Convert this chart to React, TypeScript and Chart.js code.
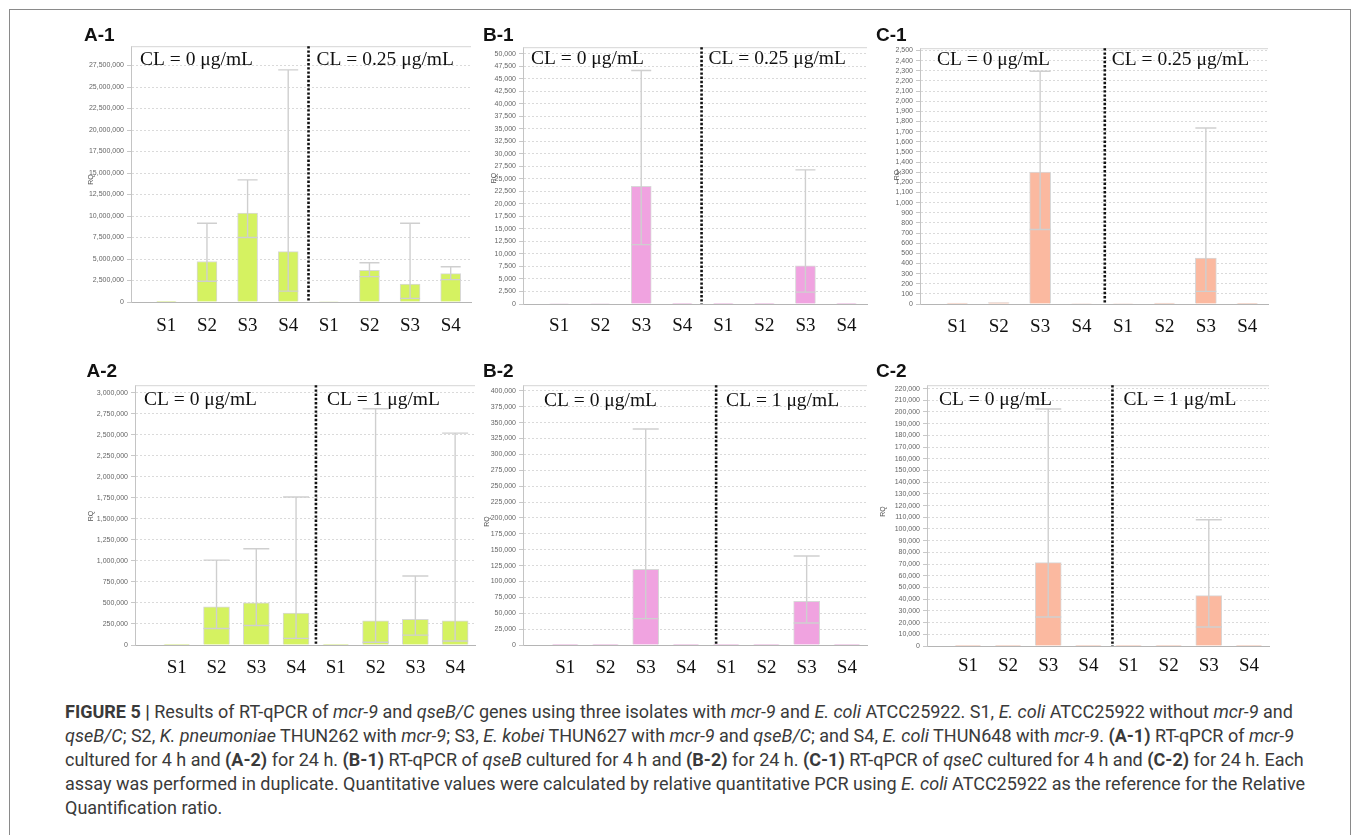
import React, { useEffect, useRef } from 'react';
import { Chart, registerables } from 'chart.js';

Chart.register(...registerables);

// ---------- data ----------
const categories = ['S1', 'S2', 'S3', 'S4', 'S1', 'S2', 'S3', 'S4'];

// A-1: mcr-9, 4 h (CL 0 / 0.25)
const a1RQ = [1, 4710000, 10340000, 5860000, 60000, 3680000, 2070000, 3300000];
const a1Min = [1, 2410000, 7500000, 1260000, 60000, 2950000, 420000, 2600000];
const a1Max = [1, 9160000, 14200000, 27000000, 60000, 4560000, 9160000, 4100000];

// B-1: qseB, 4 h
const b1RQ = [100, 100, 23500, 1, 1, 1, 7630, 1];
const b1Min = [100, 100, 11860, 1, 1, 1, 2370, 1];
const b1Max = [100, 100, 46640, 1, 1, 1, 26800, 1];

// C-1: qseC, 4 h
const c1RQ = [10, 15, 1300, 5, 5, 8, 452, 4];
const c1Min = [10, 15, 735, 5, 5, 8, 124, 4];
const c1Max = [10, 15, 2295, 5, 5, 8, 1735, 4];

// A-2: mcr-9, 24 h (CL 0 / 1)
const a2RQ = [1, 455000, 502000, 380000, 1, 286000, 306000, 286000];
const a2Min = [1, 196000, 232000, 79000, 1, 32000, 118000, 47000];
const a2Max = [1, 1010000, 1145000, 1760000, 1, 2810000, 820000, 2520000];

// B-2: qseB, 24 h
const b2RQ = [1, 1, 119200, 1, 1, 1, 68900, 1];
const b2Min = [1, 1, 41500, 1, 1, 1, 34700, 1];
const b2Max = [1, 1, 340000, 1, 1, 1, 140000, 1];

// C-2: qseC, 24 h
const c2RQ = [1, 1, 71300, 1, 1, 1, 43100, 1];
const c2Min = [1, 1, 24800, 1, 1, 1, 16300, 1];
const c2Max = [1, 1, 202600, 1, 1, 1, 107900, 1];

// y axes (max, tick step)
const yMaxes = [29750000, 51300, 2522, 3090000, 409000, 222900];
const ySteps = [2500000, 2500, 100, 250000, 25000, 10000];

const panelNames = ['A-1', 'B-1', 'C-1', 'A-2', 'B-2', 'C-2'];
const clLeftLabels = ['CL = 0 μg/mL', 'CL = 0 μg/mL', 'CL = 0 μg/mL', 'CL = 0 μg/mL', 'CL = 0 μg/mL', 'CL = 0 μg/mL'];
const clRightLabels = ['CL = 0.25 μg/mL', 'CL = 0.25 μg/mL', 'CL = 0.25 μg/mL', 'CL = 1 μg/mL', 'CL = 1 μg/mL', 'CL = 1 μg/mL'];
const yTitle = 'RQ';

// ---------- layout / style ----------
const GREEN = '#d5f261';
const PINK = '#f0a3e0';
const SALMON = '#fbb9a0';

type Panel = {
  name: string;
  rq: number[];
  lo: number[];
  hi: number[];
  color: string;
  yMax: number;
  yStep: number;
  clL: string;
  clR: string;
  l: number; r: number; t: number; b: number;
  xMin: number;
  barW: number;
  divider: number;
  dxL: number; dxR: number; dy: number;
  rqDx: number; rqDy: number;
  sOff: number;
  lx: number; ly: number;
};

const panels: Panel[] = [
  { name: panelNames[0], rq: a1RQ, lo: a1Min, hi: a1Max, color: GREEN, yMax: yMaxes[0], yStep: ySteps[0], clL: clLeftLabels[0], clR: clRightLabels[0],
    l: 131, r: 471, t: 43, b: 302, xMin: -0.87, barW: 20, divider: 3.5, dxL: 9, dxR: 8, dy: 13.7, rqDx: 40, rqDy: 5.5, sOff: 23, lx: 84, ly: 24.5 },
  { name: panelNames[1], rq: b1RQ, lo: b1Min, hi: b1Max, color: PINK, yMax: yMaxes[1], yStep: ySteps[1], clL: clLeftLabels[1], clR: clRightLabels[1],
    l: 523, r: 867, t: 44, b: 304, xMin: -0.88, barW: 20, divider: 3.47, dxL: 8, dxR: 7, dy: 11.6, rqDx: 29, rqDy: 2.5, sOff: 21, lx: 483, ly: 24.5 },
  { name: panelNames[2], rq: c1RQ, lo: c1Min, hi: c1Max, color: SALMON, yMax: yMaxes[2], yStep: ySteps[2], clL: clLeftLabels[2], clR: clRightLabels[2],
    l: 920, r: 1268, t: 45, b: 304, xMin: -0.9, barW: 21, divider: 3.56, dxL: 17, dxR: 7, dy: 11.7, rqDx: 23, rqDy: -1, sOff: 21.3, lx: 876, ly: 24.5 },
  { name: panelNames[3], rq: a2RQ, lo: a2Min, hi: a2Max, color: GREEN, yMax: yMaxes[3], yStep: ySteps[3], clL: clLeftLabels[3], clR: clRightLabels[3],
    l: 135, r: 475, t: 382, b: 645, xMin: -1.05, barW: 26, divider: 3.5, dxL: 9, dxR: 11, dy: 14.4, rqDx: 44, rqDy: 1, sOff: 21.7, lx: 86.5, ly: 360.5 },
  { name: panelNames[4], rq: b2RQ, lo: b2Min, hi: b2Max, color: PINK, yMax: yMaxes[4], yStep: ySteps[4], clL: clLeftLabels[4], clR: clRightLabels[4],
    l: 523, r: 867, t: 382, b: 645, xMin: -1.05, barW: 26, divider: 3.75, dxL: 21, dxR: 10, dy: 16, rqDx: 36, rqDy: 6.5, sOff: 21.7, lx: 483, ly: 360.5 },
  { name: panelNames[5], rq: c2RQ, lo: c2Min, hi: c2Max, color: SALMON, yMax: yMaxes[5], yStep: ySteps[5], clL: clLeftLabels[5], clR: clRightLabels[5],
    l: 927, r: 1269, t: 382, b: 646, xMin: -1.02, barW: 26, divider: 3.6, dxL: 12, dxR: 11, dy: 14.4, rqDx: 44, rqDy: -4, sOff: 19, lx: 876, ly: 360.5 },
];

const YW = 60;   // y-axis box width
const XH = 45;   // x-axis box height
const PT = 4;    // top padding
const PR = 4;    // right padding

const SERIF = '"Liberation Serif", "Times New Roman", serif';
const SANS = '"Liberation Sans", Arial, sans-serif';

function PanelChart({ p }: { p: Panel }) {
  const ref = useRef<HTMLCanvasElement>(null);
  const cw = p.r - p.l + YW + PR;
  const ch = p.b - p.t + PT + XH;

  useEffect(() => {
    if (!ref.current) return;
    const decor = {
      id: 'decor',
      beforeDatasetsDraw(chart: any) {
        const { ctx, chartArea: ca } = chart;
        ctx.save();
        ctx.strokeStyle = '#d6d6d6';
        ctx.lineWidth = 1;
        ctx.beginPath();
        ctx.moveTo(ca.left, ca.top + 0.5);
        ctx.lineTo(ca.right, ca.top + 0.5);
        ctx.stroke();
        ctx.restore();
      },
      afterDatasetsDraw(chart: any) {
        const { ctx, chartArea: ca } = chart;
        const ys = chart.scales.y;
        const xs = chart.scales.x;
        const meta = chart.getDatasetMeta(0);
        // error bars (RQ min / max)
        ctx.save();
        ctx.strokeStyle = '#cfcfcf';
        ctx.lineWidth = 1.4;
        meta.data.forEach((el: any, i: number) => {
          if (p.hi[i] === p.lo[i]) return;
          const x = el.x;
          const w = el.width;
          const yh = ys.getPixelForValue(p.hi[i]);
          const yl = ys.getPixelForValue(p.lo[i]);
          ctx.beginPath();
          ctx.moveTo(x, yl);
          ctx.lineTo(x, yh);
          ctx.moveTo(x - w / 2, yh);
          ctx.lineTo(x + w / 2, yh);
          ctx.moveTo(x - w / 2, yl);
          ctx.lineTo(x + w / 2, yl);
          ctx.stroke();
        });
        ctx.restore();
        // dotted divider
        const dx = xs.getPixelForValue(p.divider);
        ctx.save();
        ctx.strokeStyle = '#111';
        ctx.lineWidth = 2.6;
        ctx.setLineDash([2.4, 1.8]);
        ctx.beginPath();
        ctx.moveTo(dx, ca.top);
        ctx.lineTo(dx, ca.bottom);
        ctx.stroke();
        ctx.restore();
        // CL labels
        ctx.save();
        ctx.fillStyle = '#111';
        ctx.font = `19.5px ${SERIF}`;
        ctx.textBaseline = 'middle';
        ctx.textAlign = 'left';
        ctx.fillText(p.clL, ca.left + p.dxL, ca.top + p.dy);
        ctx.fillText(p.clR, dx + p.dxR, ca.top + p.dy);
        // RQ title
        ctx.font = `7px ${SANS}`;
        ctx.fillStyle = '#555';
        ctx.translate(ca.left - p.rqDx, (ca.top + ca.bottom) / 2 + p.rqDy);
        ctx.rotate(-Math.PI / 2);
        ctx.textAlign = 'center';
        ctx.fillText(yTitle, 0, 0);
        ctx.restore();
      },
    };

    const chart = new Chart(ref.current, {
      type: 'bar',
      data: {
        datasets: [
          {
            data: p.rq.map((v, i) => ({ x: i, y: v })),
            backgroundColor: p.color,
            borderColor: '#d8d8d8',
            borderWidth: 1,
            barThickness: p.barW,
          } as any,
        ],
      },
      options: {
        animation: false,
        responsive: false,
        devicePixelRatio: 1,
        layout: { padding: { left: 0, right: PR, top: PT, bottom: 0 } },
        plugins: { legend: { display: false }, tooltip: { enabled: false } },
        scales: {
          x: {
            type: 'linear',
            min: p.xMin,
            max: 7.5,
            offset: false,
            grid: { display: false, drawTicks: false },
            border: { color: '#b5b5b5', width: 1 },
            ticks: {
              font: { family: SERIF, size: 19 },
              color: '#111',
              padding: p.sOff - 10,
              maxRotation: 0,
              autoSkip: false,
              callback: (v: any) => categories[v as number] ?? '',
            },
            afterBuildTicks: (s: any) => {
              s.ticks = categories.map((_, i) => ({ value: i }));
            },
            afterFit: (s: any) => {
              s.height = XH;
            },
          },
          y: {
            min: 0,
            max: p.yMax,
            ticks: {
              stepSize: p.yStep,
              font: { family: SANS, size: 7 },
              color: '#666',
              padding: 3,
              autoSkip: false,
              callback: (v: any) => Number(v).toLocaleString('en-US'),
            },
            grid: { color: '#dadada', tickLength: 4, tickColor: '#c8c8c8' },
            border: { color: '#c4c4c4', dash: [2, 2] },
            afterBuildTicks: (s: any) => {
              const n = Math.floor(p.yMax / p.yStep + 1e-9);
              const ticks: any[] = [];
              for (let k = 0; k <= n; k++) ticks.push({ value: k * p.yStep });
              s.ticks = ticks;
            },
            afterFit: (s: any) => {
              s.width = YW;
            },
          },
        },
      } as any,
      plugins: [decor],
    });
    return () => chart.destroy();
  }, []);

  return (
    <>
      <canvas
        ref={ref}
        width={cw}
        height={ch}
        style={{ position: 'absolute', left: p.l - YW, top: p.t - PT, width: cw, height: ch }}
      />
      <div
        style={{
          position: 'absolute',
          left: p.lx,
          top: p.ly,
          font: `bold 19px ${SANS}`,
          lineHeight: '19px',
          color: '#111',
          whiteSpace: 'nowrap',
        }}
      >
        {p.name}
      </div>
    </>
  );
}

export default function App() {
  const capStyle: React.CSSProperties = {
    position: 'absolute',
    left: 65,
    top: 700,
    font: `18px Roboto, ${SANS}`,
    lineHeight: '24px',
    color: '#3a3a3a',
    whiteSpace: 'nowrap',
  };
  return (
    <div style={{ position: 'absolute', left: 0, top: 0, width: 1357, height: 835, background: '#fff', overflow: 'hidden' }}>
      <div style={{ position: 'absolute', left: 9, top: 9, width: 1340, height: 860, border: '1px solid #8a8a8a' }} />
      {panels.map((p) => (
        <PanelChart key={p.name} p={p} />
      ))}
      <div style={capStyle}>
        <div>
          <b>FIGURE 5 |</b> Results of RT-qPCR of <i>mcr-9</i> and <i>qseB/C</i> genes using three isolates with <i>mcr-9</i> and <i>E. coli</i> ATCC25922. S1, <i>E. coli</i> ATCC25922 without <i>mcr-9</i> and
        </div>
        <div>
          <i>qseB/C</i>; S2, <i>K. pneumoniae</i> THUN262 with <i>mcr-9</i>; S3, <i>E. kobei</i> THUN627 with <i>mcr-9</i> and <i>qseB/C</i>; and S4, <i>E. coli</i> THUN648 with <i>mcr-9</i>. <b>(A-1)</b> RT-qPCR of <i>mcr-9</i>
        </div>
        <div>
          cultured for 4 h and <b>(A-2)</b> for 24 h. <b>(B-1)</b> RT-qPCR of <i>qseB</i> cultured for 4 h and <b>(B-2)</b> for 24 h. <b>(C-1)</b> RT-qPCR of <i>qseC</i> cultured for 4 h and <b>(C-2)</b> for 24 h. Each
        </div>
        <div>
          assay was performed in duplicate. Quantitative values were calculated by relative quantitative PCR using <i>E. coli</i> ATCC25922 as the reference for the Relative
        </div>
        <div>Quantification ratio.</div>
      </div>
    </div>
  );
}
